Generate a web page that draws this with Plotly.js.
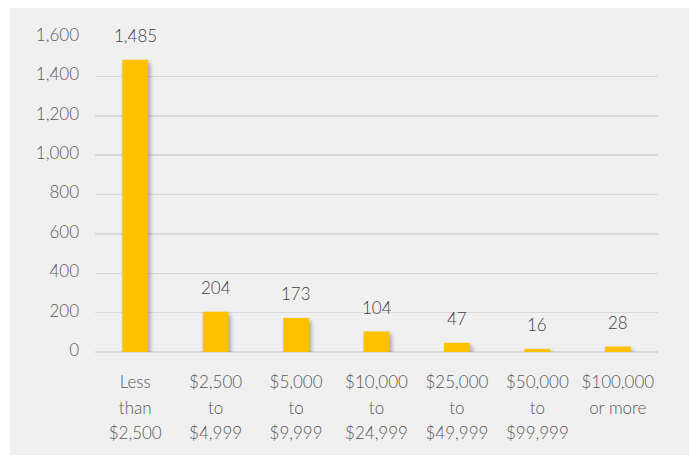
<!DOCTYPE html>
<html>
<head>
<meta charset="utf-8">
<script src="https://cdn.plot.ly/plotly-3.0.1.min.js"></script>
<style>
  html, body { margin: 0; padding: 0; background: #ffffff; width: 689px; height: 457px; overflow: hidden; }
  #chart { position: absolute; left: 10px; top: 8px; width: 679px; height: 447px; }
  .barlayer .point path { filter: drop-shadow(2px 3px 2px rgba(0,0,0,0.35)); }
</style>
</head>
<body>
<div id="chart"></div>
<script>
var categories = ["Less<br>than<br>$2,500", "$2,500<br>to<br>$4,999", "$5,000<br>to<br>$9,999", "$10,000<br>to<br>$24,999", "$25,000<br>to<br>$49,999", "$50,000<br>to<br>$99,999", "$100,000<br>or more"];
var values = [1485, 204, 173, 104, 47, 16, 28];
var yTickVals = [0, 200, 400, 600, 800, 1000, 1200, 1400, 1600];
var yTickText = ["0", "200", "400", "600", "800", "1,000", "1,200", "1,400", "1,600"];
var valueLabels = ["1,485", "204", "173", "104", "47", "16", "28"];

var trace = {
  type: 'bar',
  x: categories,
  y: values,
  width: 0.32,
  marker: { color: '#FFC000', line: { width: 0 } },
  hoverinfo: 'none'
};

var annotations = categories.map(function (c, i) {
  return {
    x: c, y: values[i], xref: 'x', yref: 'y',
    text: valueLabels[i], showarrow: false,
    yanchor: 'middle', yshift: 24,
    font: { family: 'Lato, sans-serif', size: 17, color: '#404040', weight: 300 }
  };
});

var layout = {
  width: 679, height: 447,
  paper_bgcolor: '#f0f0f0',
  plot_bgcolor: '#f0f0f0',
  margin: { l: 85, r: 31, t: 29, b: 103 },
  showlegend: false,
  font: { family: 'Lato, sans-serif', size: 17, color: '#595959', weight: 300 },
  xaxis: {
    type: 'category',
    showgrid: false,
    showline: false,
    zeroline: false,
    ticks: '',
    tickfont: { family: 'Lato, sans-serif', size: 17, color: '#595959', weight: 300 },
    ticklabelstandoff: 18
  },
  yaxis: {
    range: [0, 1600],
    tickvals: yTickVals,
    ticktext: yTickText,
    showgrid: true,
    gridcolor: '#d9d9d9',
    gridwidth: 1.5,
    zeroline: true,
    zerolinecolor: '#d9d9d9',
    zerolinewidth: 1.5,
    showline: false,
    ticks: '',
    ticklabelstandoff: 15,
    ticklabelshift: -2,
    tickfont: { family: 'Lato, sans-serif', size: 17, color: '#595959', weight: 300 }
  },
  annotations: annotations
};

Plotly.newPlot('chart', [trace], layout, { displayModeBar: false, staticPlot: true }).then(function (gd) {
  // widen the line spacing of the multi-line category labels
  gd.querySelectorAll('.xtick text').forEach(function (t) {
    t.querySelectorAll('tspan.line').forEach(function (ts, i) {
      ts.setAttribute('dy', (i * 1.5) + 'em');
    });
  });
});
</script>
</body>
</html>
